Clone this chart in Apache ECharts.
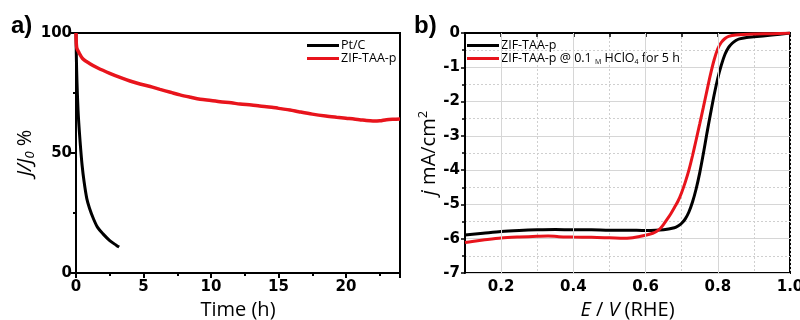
<!DOCTYPE html>
<html><head><meta charset="utf-8">
<script src="https://cdn.jsdelivr.net/npm/echarts@6/dist/echarts.min.js"></script>
<style>html,body{margin:0;padding:0;background:#fff;overflow:hidden}#c{width:800px;height:320px}</style>
</head><body><div id="c"></div>
<script>
// Panel a) stability: time (h) vs J/J0 %
const ptcTime = [0,0.02,0.05,0.1,0.15,0.2,0.3,0.45,0.6,0.8,1.0,1.3,1.6,2.0,2.5,3.0,3.2];
const ptcVal  = [100,92,84,75,68,63,55,45,38,31,27,22.5,19,16.3,13.5,11.5,10.8];
const zifTime = [0,0.05,0.2,0.5,1,1.65,2.5,3.26,4,4.74,5.5,6.22,7,7.7,8.5,9.2,10,10.67,11.5,12.15,13,13.6,14.5,15,15.85,16.5,17.5,18.5,19.3,20,21,21.5,22,22.5,23,23.5,24];
const zifVal  = [100,94,92,89.3,87.3,85.3,83.2,81.5,80,78.75,77.7,76.5,75.3,74.2,73.2,72.4,71.9,71.4,70.9,70.4,70,69.6,69.1,68.6,67.9,67.2,66.2,65.4,64.9,64.5,63.9,63.5,63.3,63.4,63.9,64.1,64.2];
// Panel b) LSV: E (V vs RHE) vs j (mA/cm2)
const lsvE1 = [0.1,0.15,0.2,0.25,0.3,0.35,0.4,0.45,0.5,0.55,0.6,0.65,0.68,0.69,0.7,0.71,0.72,0.73,0.74,0.75,0.76,0.77,0.78,0.79,0.8,0.81,0.82,0.83,0.84,0.85,0.86,0.88,0.9,0.95,1.0];
const lsvJ1 = [-5.89,-5.84,-5.79,-5.76,-5.74,-5.73,-5.74,-5.74,-5.75,-5.75,-5.76,-5.74,-5.68,-5.63,-5.55,-5.42,-5.22,-4.93,-4.55,-4.08,-3.52,-2.92,-2.35,-1.8,-1.32,-0.93,-0.62,-0.42,-0.3,-0.22,-0.17,-0.13,-0.11,-0.06,0];
const lsvE2 = [0.1,0.12,0.15,0.2,0.25,0.3,0.33,0.36,0.4,0.45,0.5,0.54,0.557,0.58,0.6,0.62,0.63,0.64,0.65,0.66,0.67,0.68,0.69,0.7,0.71,0.72,0.73,0.74,0.75,0.76,0.77,0.78,0.79,0.8,0.81,0.82,0.83,0.85,0.9,0.95,1.0];
const lsvJ2 = [-6.11,-6.08,-6.04,-5.98,-5.95,-5.93,-5.92,-5.94,-5.95,-5.96,-5.97,-5.99,-5.98,-5.94,-5.9,-5.84,-5.79,-5.71,-5.58,-5.43,-5.27,-5.09,-4.9,-4.65,-4.35,-4.0,-3.58,-3.12,-2.65,-2.17,-1.68,-1.2,-0.78,-0.46,-0.27,-0.16,-0.1,-0.06,-0.03,-0.02,0];
const leftTicksX = [0,5,10,15,20];
const majorE = [0.2,0.4,0.6,0.8];
const rightLegend = ['ZIF-TAA-p', 'ZIF-TAA-p @ 0.1 {sub|M} HClO{sub|4} for 5 h'];

const zip = (a,b) => a.map((v,i)=>[v,b[i]]);
const RED = '#e8141c';
const tickFont = {fontFamily:'DejaVu Sans', fontWeight:'bold', fontSize:15, color:'#000'};
const nameFont = {fontFamily:'Open Sans', fontSize:20, color:'#000'};
const solidGrid = {show:true, lineStyle:{color:'#d6d6d6', width:1, type:'solid'}};
const dotGrid = {show:true, lineStyle:{color:'#cfcfcf', width:1, type:[2,2]}};

const chart = echarts.init(document.getElementById('c'), null, {renderer:'canvas'});
chart.setOption({
  animation:false,
  backgroundColor:'#fff',
  grid:[
    {left:76, right:400, top:33, bottom:47, show:true, borderColor:'#000', borderWidth:2,
     containLabel:false, outerBoundsMode:'none'},
    {left:465, right:10, top:33, bottom:47, show:true, borderColor:'#000', borderWidth:2,
     containLabel:false, outerBoundsMode:'none'}
  ],
  graphic:[
    {type:'text', left:11, top:14, style:{text:'a)', font:'bold 24px "Liberation Sans"', fill:'#000'}},
    {type:'text', left:414, top:14, style:{text:'b)', font:'bold 24px "Liberation Sans"', fill:'#000'}}
  ],
  legend:[
    {orient:'vertical', left:302, top:34, itemGap:0, itemWidth:32, itemHeight:3, icon:'rect',
     data:['Pt/C','ZIF-TAA-p'],
     textStyle:{fontFamily:'Open Sans', fontSize:12.5, lineHeight:13, color:'#000', padding:[0,0,0,-3]}},
    {orient:'vertical', left:462, top:34, itemGap:0, itemWidth:32, itemHeight:3, icon:'rect',
     data:['b-fresh','b-acid'],
     formatter: n => n==='b-fresh' ? rightLegend[0] : rightLegend[1],
     textStyle:{fontFamily:'Open Sans', fontSize:12.5, lineHeight:13, color:'#000', padding:[0,0,0,-3],
       rich:{sub:{fontSize:7, fontFamily:'Open Sans', color:'#000', padding:[7,0,0,0]}}}}
  ],
  xAxis:[
    {type:'value', gridIndex:0, min:0, max:24, interval:5,
     axisLine:{lineStyle:{color:'#000', width:2}},
     axisTick:{length:5, lineStyle:{width:2, color:'#000'}},
     minorTick:{show:true, splitNumber:2, length:3, lineStyle:{width:2, color:'#000'}},
     splitLine:{show:false},
     axisLabel:{...tickFont, margin:7, showMaxLabel:false,
       formatter: v => leftTicksX.includes(v) ? String(v) : ''},
     name:'Time (h)', nameLocation:'middle', nameGap:23, nameTextStyle:nameFont},
    {type:'value', gridIndex:1, min:0.1, max:1.0, interval:0.1,
     axisLine:{lineStyle:{color:'#000', width:2}},
     axisTick:{length:4, lineStyle:{width:1.5, color:'#000'}},
     splitLine:dotGrid,
     axisLabel:{...tickFont, margin:7,
       formatter: v => (Math.round(v*10)%2===0) ? v.toFixed(1) : ''},
     name:'{i|E} / {i|V} (RHE)', nameLocation:'middle', nameGap:23,
     nameTextStyle:{...nameFont, rich:{i:{fontFamily:'Open Sans', fontStyle:'italic', fontSize:20, color:'#000'}}}}
  ],
  yAxis:[
    {type:'value', gridIndex:0, min:0, max:100, interval:50,
     axisLine:{lineStyle:{color:'#000', width:2}},
     axisTick:{length:5, lineStyle:{width:2, color:'#000'}},
     minorTick:{show:true, splitNumber:2, length:3, lineStyle:{width:2, color:'#000'}},
     splitLine:{show:false},
     axisLabel:{...tickFont, margin:4},
     name:'{i|J/J}{sub|0}{n| %}', nameLocation:'middle', nameGap:36,
     nameTextStyle:{...nameFont, rich:{
       i:{fontFamily:'Open Sans', fontStyle:'italic', fontSize:20, color:'#000'},
       sub:{fontFamily:'Open Sans', fontStyle:'italic', fontSize:13, color:'#000', padding:[9,0,0,0]},
       n:{fontFamily:'Open Sans', fontSize:20, color:'#000'}}}},
    {type:'value', gridIndex:1, min:-7, max:0, interval:1,
     axisLine:{lineStyle:{color:'#000', width:2}},
     axisTick:{length:4, lineStyle:{width:1.5, color:'#000'}},
     minorTick:{show:true, splitNumber:2, length:3, lineStyle:{width:1.5, color:'#000'}},
     splitLine:solidGrid,
     minorSplitLine:dotGrid,
     axisLabel:{...tickFont, margin:5},
     name:'{i|j} mA/cm{sup|2}', nameLocation:'middle', nameGap:24,
     nameTextStyle:{...nameFont, rich:{
       i:{fontFamily:'Open Sans', fontStyle:'italic', fontSize:20, color:'#000'},
       sup:{fontFamily:'Open Sans', fontSize:13, color:'#000', padding:[0,0,11,0]}}}}
  ],
  series:[
    {name:'grid-major', type:'line', xAxisIndex:1, yAxisIndex:1, data:[], z:1, silent:true,
     markLine:{silent:true, symbol:'none', label:{show:false},
       lineStyle:{color:'#d6d6d6', width:1, type:'solid'},
       data: majorE.map(v => ({xAxis:v}))}},
    {name:'Pt/C', type:'line', xAxisIndex:0, yAxisIndex:0, data:zip(ptcTime,ptcVal),
     showSymbol:false, smooth:0.3, lineStyle:{color:'#000', width:3}, itemStyle:{color:'#000'}},
    {name:'ZIF-TAA-p', type:'line', xAxisIndex:0, yAxisIndex:0, data:zip(zifTime,zifVal),
     showSymbol:false, smooth:0.3, lineStyle:{color:RED, width:3.5}, itemStyle:{color:RED}},
    {name:'b-fresh', type:'line', xAxisIndex:1, yAxisIndex:1, data:zip(lsvE1,lsvJ1), z:3,
     showSymbol:false, smooth:0.3, lineStyle:{color:'#000', width:3}, itemStyle:{color:'#000'}},
    {name:'b-acid', type:'line', xAxisIndex:1, yAxisIndex:1, data:zip(lsvE2,lsvJ2), z:3,
     showSymbol:false, smooth:0.3, lineStyle:{color:RED, width:3}, itemStyle:{color:RED}}
  ]
});
</script></body></html>
